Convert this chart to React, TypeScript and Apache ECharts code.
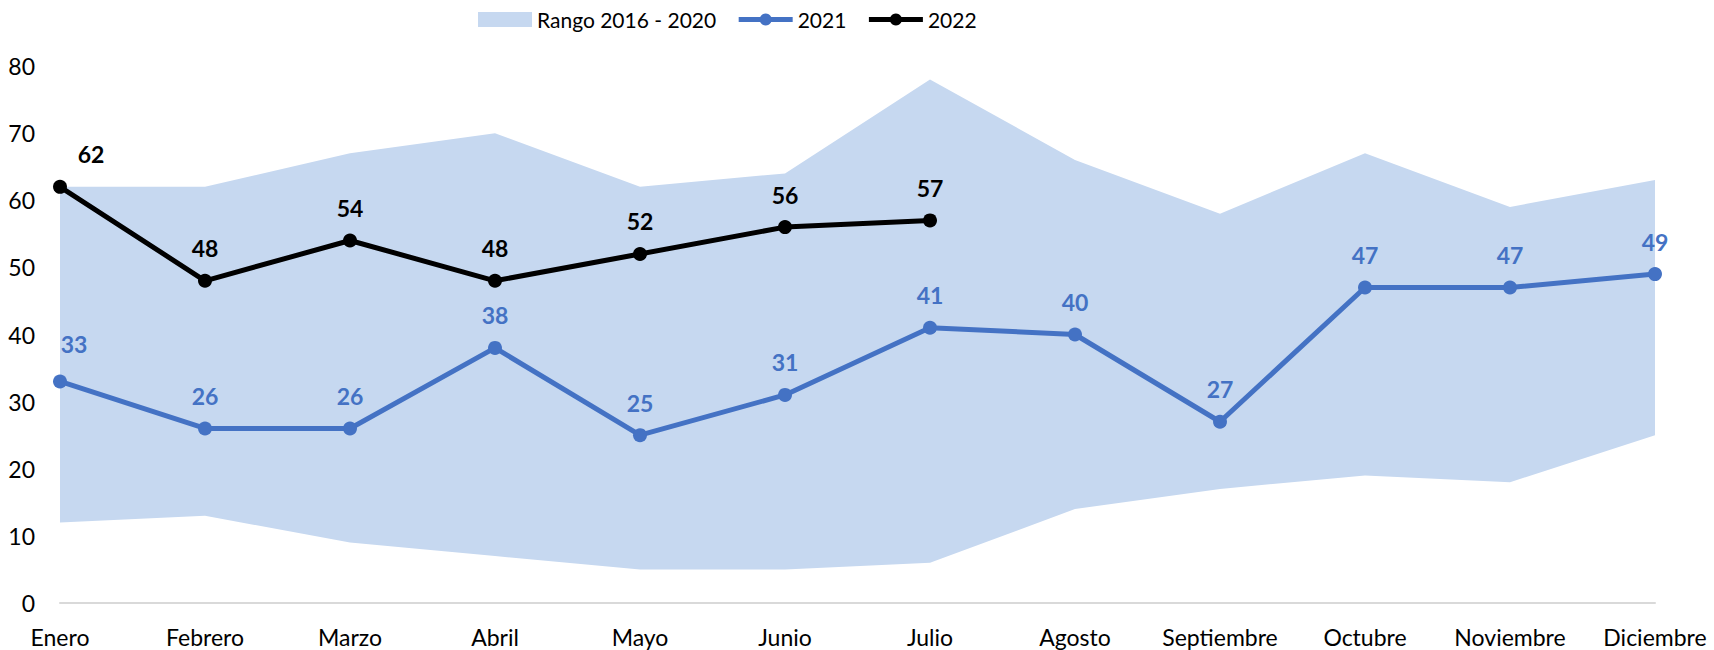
import React, { useEffect, useRef } from "react";
import * as echarts from "echarts";

const categories = ["Enero", "Febrero", "Marzo", "Abril", "Mayo", "Junio", "Julio", "Agosto", "Septiembre", "Octubre", "Noviembre", "Diciembre"];
const rangeMin = [12, 13, 9, 7, 5, 5, 6, 14, 17, 19, 18, 25];
const rangeMax = [62, 62, 67, 70, 62, 64, 78, 66, 58, 67, 59, 63];
const values2021 = [33, 26, 26, 38, 25, 31, 41, 40, 27, 47, 47, 49];
const values2022 = [62, 48, 54, 48, 52, 56, 57];
const rangeName = "Rango 2016 - 2020";

const BAND = "#C6D8F0";
const BLUE = "#4472C4";
const BLACK = "#000000";
const FONT = "Lato";

export default function App() {
  const ref = useRef<HTMLDivElement>(null);
  useEffect(() => {
    document.body.style.margin = "0";
    if (!ref.current) return;
    const chart = echarts.init(ref.current, null, { renderer: "svg" });
    const bandDiff = rangeMax.map((v, i) => v - rangeMin[i]);
    chart.setOption({
      animation: false,
      backgroundColor: "#ffffff",
      textStyle: { fontFamily: FONT },
      legend: {
        left: 473,
        top: 4,
        itemWidth: 54,
        itemHeight: 15,
        itemGap: 20,
        textStyle: { fontFamily: FONT, fontSize: 21, color: "#000" },
        data: [
          { name: rangeName, icon: "rect", itemStyle: { color: BAND } },
          { name: "2021", lineStyle: { width: 5, color: BLUE } },
          { name: "2022", lineStyle: { width: 5, color: BLACK } },
        ],
      },
      grid: { left: 60, right: 59, top: 66, bottom: 47 },
      xAxis: {
        type: "category",
        data: categories,
        boundaryGap: false,
        axisLine: { show: true, lineStyle: { color: "#d9d9d9", width: 2 } },
        axisTick: { show: false },
        axisLabel: { color: "#000", fontSize: 23, fontFamily: FONT, margin: 22, interval: 0 },
        splitLine: { show: false },
      },
      yAxis: {
        type: "value",
        min: 0,
        max: 80,
        interval: 10,
        axisLine: { show: false },
        axisTick: { show: false },
        splitLine: { show: false },
        axisLabel: { color: "#000", fontSize: 23, fontFamily: FONT, margin: 25 },
      },
      series: [
        {
          name: "__base",
          type: "line",
          stack: "band",
          data: rangeMin,
          symbol: "none",
          lineStyle: { width: 0, opacity: 0 },
          silent: true,
          z: 1,
        },
        {
          name: rangeName,
          type: "line",
          stack: "band",
          data: bandDiff,
          symbol: "none",
          lineStyle: { width: 0, opacity: 0 },
          itemStyle: { color: BAND },
          areaStyle: { color: BAND, opacity: 1 },
          silent: true,
          z: 1,
        },
        {
          name: "2021",
          type: "line",
          data: values2021.map((v, i) => (i === 0 ? { value: v, label: { offset: [14, -5] } } : v)),
          symbol: "circle",
          symbolSize: 14,
          itemStyle: { color: BLUE },
          lineStyle: { color: BLUE, width: 5 },
          label: {
            show: true,
            position: "top",
            distance: 14,
            color: BLUE,
            fontWeight: "bold",
            fontSize: 23,
            fontFamily: FONT,
          },
          z: 3,
        },
        {
          name: "2022",
          type: "line",
          data: values2022.map((v, i) => (i === 0 ? { value: v, label: { offset: [31, 0] } } : v)),
          symbol: "circle",
          symbolSize: 14,
          itemStyle: { color: BLACK },
          lineStyle: { color: BLACK, width: 5 },
          label: {
            show: true,
            position: "top",
            distance: 14,
            color: BLACK,
            fontWeight: "bold",
            fontSize: 23,
            fontFamily: FONT,
          },
          z: 4,
        },
      ],
    });
    return () => chart.dispose();
  }, []);
  return <div ref={ref} style={{ width: 1714, height: 650 }} />;
}
